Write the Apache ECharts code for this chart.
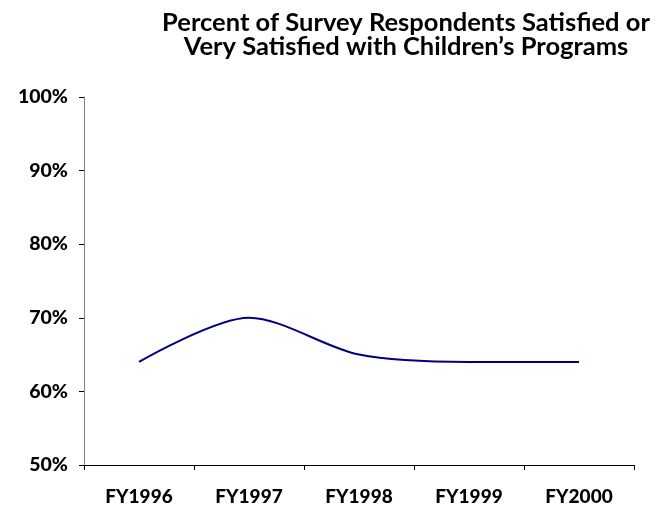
<!DOCTYPE html>
<html><head><meta charset="utf-8">
<script src="https://cdn.jsdelivr.net/npm/echarts@6/dist/echarts.min.js"></script>
<style>html,body{margin:0;padding:0;background:#fff}#c{width:661px;height:510px}</style>
</head><body><div id="c"></div>
<script>
const titleLines = ["Percent of Survey Respondents Satisfied or", "Very Satisfied with Children\u2019s Programs"];
const categories = ["FY1996", "FY1997", "FY1998", "FY1999", "FY2000"];
const satisfied = [64, 70, 65, 64, 64];
const yTicks = { min: 50, max: 100, interval: 10 };

const chart = echarts.init(document.getElementById('c'), null, { renderer: 'canvas' });
const FONT = 'Lato';
chart.setOption({
  animation: false,
  backgroundColor: '#fff',
  graphic: titleLines.map((t, i) => ({
    type: 'text', x: 406, y: 23 + i * 24,
    style: { text: t, align: 'center', verticalAlign: 'middle',
      font: 'bold 25.5px ' + FONT, fill: '#000' }
  })),
  grid: { left: 84, right: 27, top: 97, bottom: 45 },
  xAxis: {
    type: 'category', data: categories, boundaryGap: true,
    axisLine: { lineStyle: { color: '#000', width: 1 } },
    axisTick: { show: true, length: 5, lineStyle: { color: '#000' } },
    axisLabel: { margin: 22, fontFamily: FONT, fontWeight: 900, fontSize: 19, color: '#000' },
    splitLine: { show: false }
  },
  yAxis: {
    type: 'value', min: yTicks.min, max: yTicks.max, interval: yTicks.interval,
    axisLine: { show: true, lineStyle: { color: '#808080', width: 1 } },
    axisTick: { show: true, length: 5, lineStyle: { color: '#000' } },
    axisLabel: { margin: 16, formatter: '{value}%', fontFamily: FONT, fontWeight: 900, fontSize: 19.5, color: '#000' },
    splitLine: { show: false }
  },
  series: [{
    type: 'line', data: satisfied, smooth: 0.3, symbol: 'none',
    lineStyle: { color: '#000080', width: 2 }
  }]
});
</script></body></html>
